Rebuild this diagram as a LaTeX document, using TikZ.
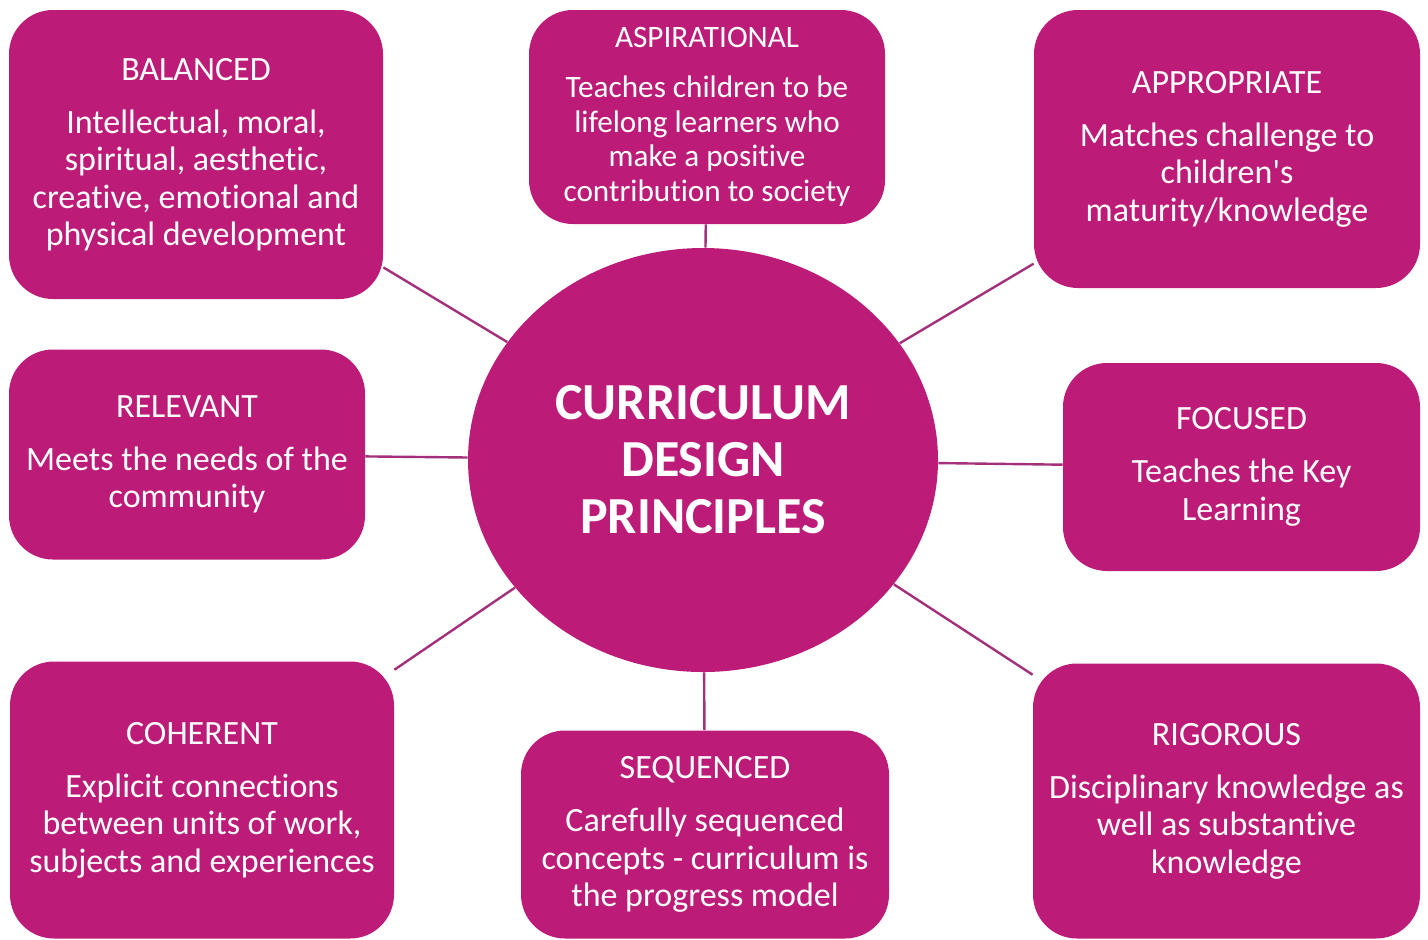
\documentclass[tikz,border=0pt]{standalone}
\usepackage{fontspec}
\setmainfont{Carlito}[Ligatures={NoCommon}]
\usetikzlibrary{shapes.geometric}
\definecolor{mag}{HTML}{BC1C78}
\definecolor{lnk}{HTML}{A3307A}
\begin{document}
\begin{tikzpicture}[x=0.5pt,y=-0.5pt,
  box/.style={fill=mag, rounded corners=22pt, text=white, align=center, inner sep=0pt,
    font=\fontsize{17}{18.75}\selectfont},
  smallbox/.style={box, font=\fontsize{15.6}{17.25}\selectfont},
  hub/.style={ellipse, fill=mag, text=white, align=center, inner sep=0pt,
    font=\fontsize{26}{28.5}\selectfont\bfseries},
  link/.style={draw=lnk, line width=1.2pt}]
\useasboundingbox (0,0) rectangle (1428,939);
\node[hub, minimum width=235pt, minimum height=212pt] (cen) at (703,460)
  {CURRICULUM\\DESIGN\\PRINCIPLES};
\node[box, minimum width=187pt, minimum height=144.5pt] (bal) at (196,154.5)
  {BALANCED\\[7.75pt]Intellectual, moral,\\spiritual, aesthetic,\\creative, emotional and\\physical development};
\node[smallbox, minimum width=178pt, minimum height=107pt] (asp) at (707,117)
  {ASPIRATIONAL\\[7.75pt]Teaches children to be\\lifelong learners who\\make a positive\\contribution to society};
\node[box, minimum width=193pt, minimum height=139pt] (app) at (1227,149)
  {APPROPRIATE\\[7.75pt]Matches challenge to\\children\textquotesingle s\\maturity/knowledge};
\node[box, minimum width=178pt, minimum height=105pt] (rel) at (187,454.5)
  {RELEVANT\\[7.75pt]Meets the needs of the\\community};
\node[box, minimum width=178.5pt, minimum height=104pt] (foc) at (1241.5,467)
  {FOCUSED\\[7.75pt]Teaches the Key\\Learning};
\node[box, minimum width=192pt, minimum height=138.5pt] (coh) at (202,800)
  {COHERENT\\[7.75pt]Explicit connections\\between units of work,\\subjects and experiences};
\node[box, minimum width=184pt, minimum height=104pt] (seq) at (705,834.5)
  {SEQUENCED\\[7.75pt]Carefully sequenced\\concepts - curriculum is\\the progress model};
\node[box, minimum width=193.5pt, minimum height=137.5pt] (rig) at (1226.5,801)
  {RIGOROUS\\[7.75pt]Disciplinary knowledge as\\well as substantive\\knowledge};
\foreach \n in {bal,asp,app,rel,foc,coh,seq,rig}
  \draw[link] (\n) -- (cen);
\end{tikzpicture}
\end{document}
